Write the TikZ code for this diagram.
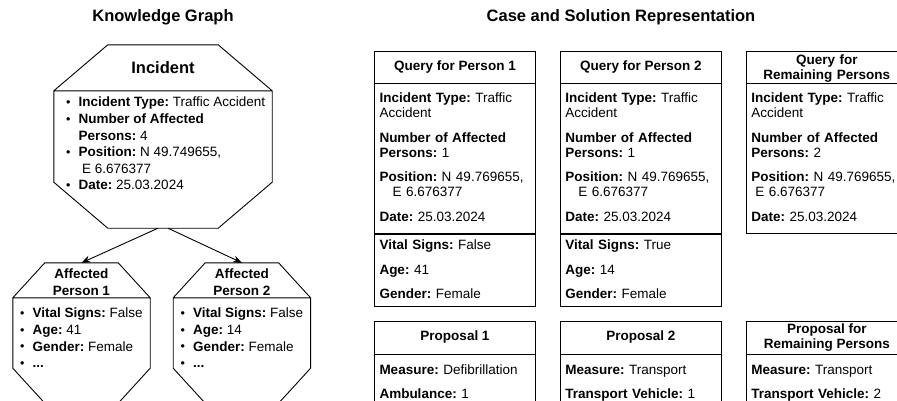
\documentclass[tikz,border=0pt]{standalone}
\usepackage{fontspec}
\setmainfont{Liberation Sans}
\usetikzlibrary{arrows.meta,positioning,calc}
\frenchspacing

% octagon outline round a named node: node, corner cut x, corner cut y
\newcommand{\octframe}[3]{%
  \draw[frame] ([xshift=#2]#1.north west) -- ([xshift=-#2]#1.north east)
    -- ([yshift=-#3]#1.north east) -- ([yshift=#3]#1.south east)
    -- ([xshift=-#2]#1.south east) -- ([xshift=#2]#1.south west)
    -- ([yshift=#3]#1.south west) -- ([yshift=-#3]#1.north west) -- cycle
    ([yshift=-#3]#1.north west) -- ([yshift=-#3]#1.north east);}
% small list bullet
\newcommand{\dotitem}{\makebox[4.7pt][c]{\raisebox{0.4pt}{\fontsize{12.5}{12.5}\selectfont\textbullet}}}

\begin{document}
\begin{tikzpicture}[
    x=1pt, y=1pt,
    >={Stealth[length=9pt,width=7pt]},
    frame/.style={line width=0.9pt, draw=black},
    heading/.style={font=\fontsize{16.5}{19}\selectfont\bfseries, inner sep=0pt},
    octbox/.style={draw=none, inner sep=0pt},
    octtitle/.style={font=\fontsize{13.5}{17}\selectfont\bfseries, align=center, inner sep=0pt},
    bulletlist/.style={font=\fontsize{13.5}{16.6}\selectfont, inner sep=0pt, anchor=north west},
    headbox/.style={frame, minimum width=161pt, minimum height=32pt, inner sep=0pt, align=center, font=\fontsize{13.5}{15}\selectfont\bfseries},
    twoline/.style={text width=161pt, text height=13.9pt, text depth=18.1pt},
    bodybox/.style={frame, minimum width=161pt, text width=151pt, inner xsep=5pt, inner ysep=0pt, align=left, font=\fontsize{13.5}{15}\selectfont},
    link/.style={->, line width=0.9pt}
]
\useasboundingbox (0,0) rectangle (897,-400);
\clip (0,0) rectangle (897,-400);

\node[heading] (kgtitle) at (163,-17) {Knowledge Graph};
\node[heading] (cstitle) at (621,-17) {Case and Solution Representation};

% knowledge graph
\node[octbox, minimum width=218pt, minimum height=183pt] (inc) at (163,-136.5) {};
\octframe{inc}{54pt}{46pt}
\node[octtitle, font=\fontsize{16.5}{19}\selectfont\bfseries] (inctitle) at ([yshift=-23pt]inc.north) {Incident};
\node[bulletlist] (inclist) at ([xshift=12pt,yshift=-50.3pt]inc.north west) {%
  \begin{tabular}{@{}l@{\hspace{8pt}}l@{}}
  \dotitem & \textbf{Incident Type:} Traffic Accident\\
  \dotitem & \textbf{Number of Affected}\\
   & \textbf{Persons:} 4\\
  \dotitem & \textbf{Position:} N 49.749655,\\
   & \hspace*{3.5pt}E 6.676377\\
  \dotitem & \textbf{Date:} 25.03.2024
  \end{tabular}};

\node[octbox, minimum width=137pt, minimum height=140pt] (pers1) at (81.5,-333) {};
\node[octbox, minimum width=137pt, minimum height=140pt, right=23pt of pers1] (pers2) {};
\octframe{pers1}{32pt}{35pt}
\octframe{pers2}{32pt}{35pt}
\node[octtitle] (pers1title) at ([yshift=-19pt]pers1.north) {Affected\\Person 1};
\node[octtitle] (pers2title) at ([yshift=-19pt]pers2.north) {Affected\\Person 2};
\node[bulletlist] (pers1list) at ([xshift=7pt,yshift=-43.2pt]pers1.north west) {%
  \begin{tabular}{@{}l@{\hspace{8pt}}l@{}}
  \dotitem & \textbf{Vital Signs:} False\\
  \dotitem & \textbf{Age:} 41\\
  \dotitem & \textbf{Gender:} Female\\
  \dotitem & \textbf{...}
  \end{tabular}};
\node[bulletlist] (pers2list) at ([xshift=7pt,yshift=-43.2pt]pers2.north west) {%
  \begin{tabular}{@{}l@{\hspace{8pt}}l@{}}
  \dotitem & \textbf{Vital Signs:} False\\
  \dotitem & \textbf{Age:} 14\\
  \dotitem & \textbf{Gender:} Female\\
  \dotitem & \textbf{...}
  \end{tabular}};

\draw[link] ([xshift=-5pt]inc.south) -- (pers1.north);
\draw[link] ([xshift=5pt]inc.south) -- (pers2.north);

% queries
\node[headbox] (q1head) at (455,-67) {Query for Person 1};
\node[headbox, right=24pt of q1head] (q2head) {Query for Person 2};
\node[headbox, twoline, right=24pt of q2head] (q3head) {Query for\\Remaining Persons};

\node[bodybox, below=0pt of q1head, text height=18.9pt, text depth=131.1pt] (q1case) {%
  \textbf{Incident Type:} Traffic\\Accident\\[9.5pt]
  \textbf{Number of Affected}\\\textbf{Persons:} 1\\[9.5pt]
  \textbf{Position:} N 49.769655,\\\hspace*{13pt}E 6.676377\\[9.5pt]
  \textbf{Date:} 25.03.2024};
\node[bodybox, below=0pt of q1case, text height=14.9pt, text depth=57.1pt] (q1person) {%
  \textbf{Vital Signs:} False\\[9.5pt]
  \textbf{Age:} 41\\[9.5pt]
  \textbf{Gender:} Female};

\node[bodybox, below=0pt of q2head, text height=18.9pt, text depth=131.1pt] (q2case) {%
  \textbf{Incident Type:} Traffic\\Accident\\[9.5pt]
  \textbf{Number of Affected}\\\textbf{Persons:} 1\\[9.5pt]
  \textbf{Position:} N 49.769655,\\\hspace*{13pt}E 6.676377\\[9.5pt]
  \textbf{Date:} 25.03.2024};
\node[bodybox, below=0pt of q2case, text height=14.9pt, text depth=57.1pt] (q2person) {%
  \textbf{Vital Signs:} True\\[9.5pt]
  \textbf{Age:} 14\\[9.5pt]
  \textbf{Gender:} Female};

\node[bodybox, below=0pt of q3head, text height=18.9pt, text depth=131.1pt] (q3case) {%
  \textbf{Incident Type:} Traffic\\Accident\\[9.5pt]
  \textbf{Number of Affected}\\\textbf{Persons:} 2\\[9.5pt]
  \textbf{Position:} N 49.769655,\\\hspace*{4pt}E 6.676377\\[9.5pt]
  \textbf{Date:} 25.03.2024};

% proposals
\node[headbox, minimum height=33pt] (s1head) at (455,-337.5) {Proposal 1};
\node[headbox, minimum height=33pt, right=24pt of s1head] (s2head) {Proposal 2};
\node[headbox, minimum height=33pt, right=24pt of s2head] (s3head) {Proposal for\\Remaining Persons};

\node[bodybox, below=0pt of s1head, text height=19.9pt, text depth=80pt] (s1body) {%
  \textbf{Measure:} Defibrillation\\[9pt]
  \textbf{Ambulance:} 1};
\node[bodybox, below=0pt of s2head, text height=19.9pt, text depth=80pt] (s2body) {%
  \textbf{Measure:} Transport\\[9pt]
  \textbf{Transport Vehicle:} 1};
\node[bodybox, below=0pt of s3head, text height=19.9pt, text depth=80pt] (s3body) {%
  \textbf{Measure:} Transport\\[9pt]
  \textbf{Transport Vehicle:} 2};
\end{tikzpicture}
\end{document}
